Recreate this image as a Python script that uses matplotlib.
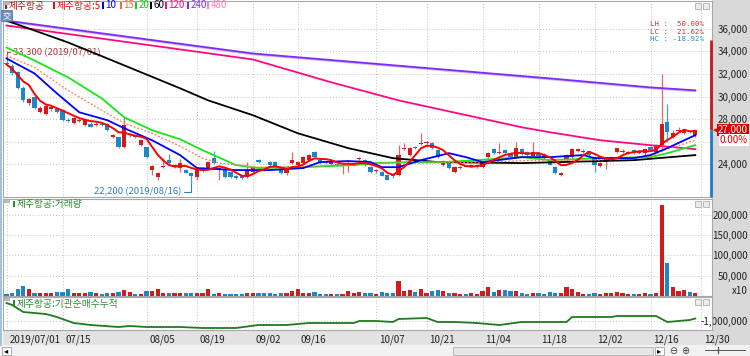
"""Jeju Air daily chart 2019/07 - 2019/12: candles + MAs, volume, institutional net buying."""

import numpy as np
import pandas as pd
import matplotlib
matplotlib.use("Agg")
import matplotlib.pyplot as plt
import matplotlib.transforms as mtransforms
from matplotlib.patches import Rectangle
from matplotlib.ticker import FuncFormatter

plt.rcParams["font.family"] = ["Liberation Sans Narrow", "Noto Sans CJK KR", "DejaVu Sans"]

# ---------------- data ----------------
holidays = ["2019-08-15", "2019-09-12", "2019-09-13", "2019-10-03", "2019-10-09", "2019-12-25"]

open_ = [33000, 32750, 32150, 30800, 29400, 29950, 28600, 28450, 28900, 28900,
         28800, 27950, 27650, 27850, 27450, 27600, 27450, 27600, 27600, 26400,
         26400, 25500, 26600, 26500, 25700, 25500, 23450, 22850, 23750, 24350,
         23750, 23650, 23450, 23200, 22850, 23400, 23650, 24550, 23500, 23450,
         23300, 22950, 22900, 22850, 23300, 24350, 23550, 24150, 24150, 23450,
         23200, 24100, 23900, 24100, 24350, 25050, 24350, 24200, 24050, 24000,
         23850, 24000, 23900, 24450, 24350, 23750, 23350, 23300, 23050, 23150,
         23050, 25350, 24800, 25550, 25800, 25850, 25900, 25250, 23950, 24200,
         23300, 23650, 23850, 23850, 23750, 23750, 24600, 25300, 25000, 25250,
         24950, 24600, 25300, 25100, 24700, 24950, 24900, 24350, 23750, 23050,
         24350, 24600, 25200, 25100, 25150, 24600, 23850, 24200, 24550, 25050,
         25100, 25000, 25250, 25000, 24950, 25500, 25050, 25700, 27700, 26400,
         26950, 26750, 26950, 26550]
high = [33300, 32850, 32250, 30950, 29900, 30100, 29200, 29350, 29150, 29000,
        28850, 28100, 28150, 28100, 28050, 27700, 27700, 27700, 27650, 26650,
        26450, 28150, 26800, 26600, 26250, 25550, 23950, 23300, 24500, 24900,
        24000, 24450, 23550, 23300, 23500, 23750, 24250, 25200, 23750, 23550,
        23400, 23050, 23000, 24200, 23850, 24450, 23650, 24250, 24250, 23550,
        23550, 25100, 24300, 24700, 24900, 25150, 24450, 24300, 24250, 24100,
        24050, 24350, 24100, 24650, 24450, 23800, 23550, 23350, 23100, 23250,
        25700, 25850, 25500, 25650, 26750, 26050, 26000, 25300, 24400, 24250,
        23800, 23850, 23900, 24000, 24000, 24150, 25050, 25400, 25850, 25350,
        25050, 26000, 25400, 25200, 26000, 25050, 25000, 24400, 23800, 23300,
        24900, 25400, 25400, 25300, 25200, 24650, 24150, 24600, 24750, 25450,
        25300, 25200, 25300, 25200, 25400, 25600, 25750, 32000, 29300, 27000,
        27250, 27050, 27050, 27100]
low = [32700, 31950, 30700, 29550, 29250, 28900, 28500, 28350, 28750, 28550,
       27850, 27750, 27550, 27750, 27350, 27250, 27350, 27400, 26950, 26300,
       25450, 25400, 26450, 26300, 25600, 24550, 23000, 22600, 23650, 24000,
       23650, 23300, 23200, 22200, 22550, 23300, 23550, 24000, 22600, 22800,
       22800, 22700, 22700, 22800, 23200, 24100, 23350, 23850, 23700, 23150,
       23000, 24000, 23800, 24000, 24250, 24550, 24050, 24050, 23950, 23800,
       23100, 23300, 23800, 24350, 23850, 23250, 23250, 22900, 22550, 22800,
       22950, 25250, 24700, 25350, 25700, 25750, 25350, 24550, 23850, 23600,
       23200, 23550, 23700, 23750, 23650, 23650, 24500, 24900, 24900, 24900,
       24550, 24500, 24850, 24750, 24600, 24650, 24450, 23900, 23150, 22900,
       24250, 24500, 25100, 25000, 24750, 23300, 23750, 23600, 24450, 24950,
       25000, 24900, 24900, 24900, 24850, 25200, 24950, 25300, 26000, 26300,
       26850, 26650, 26800, 26450]
close = [32850, 32050, 30800, 29650, 29750, 28950, 28950, 29200, 29050, 28650,
         27900, 27850, 28050, 27950, 27950, 27300, 27600, 27500, 27000, 26550,
         25500, 27450, 26700, 26400, 26100, 24600, 23850, 23200, 23850, 24100,
         23900, 24100, 23250, 22950, 23450, 23650, 24150, 24100, 23650, 22850,
         22850, 22750, 22750, 23450, 23750, 24200, 23450, 23900, 23750, 23200,
         23450, 24350, 24200, 24600, 24800, 24600, 24100, 24100, 24150, 23850,
         23950, 24100, 24000, 24550, 23900, 23300, 23450, 22950, 22600, 22900,
         24800, 25450, 25400, 25450, 25900, 25950, 25400, 24600, 24300, 23650,
         23750, 23750, 23750, 23950, 23950, 24100, 24950, 24950, 25100, 24950,
         24600, 25400, 24900, 24800, 25100, 24700, 24500, 23950, 23200, 23200,
         24800, 25350, 25300, 25200, 24800, 23900, 24100, 24550, 24650, 25400,
         25200, 25100, 24950, 25100, 25350, 25250, 25700, 27550, 26850, 26800,
         27050, 27000, 26850, 27000]
# volume, in units of 10 shares (axis is marked x10)
volume_x10 = [5200, 8200, 17200, 25400, 16500, 8200, 6700, 8200, 8200, 9900,
              9900, 16500, 8200, 8200, 8200, 9900, 6700, 5700, 6200, 8200,
              9900, 14700, 9900, 5200, 5700, 11600, 12200, 17200, 8200, 8200,
              6200, 6200, 7200, 6200, 6200, 8200, 17200, 5700, 7200, 5700,
              5700, 4700, 4700, 7200, 6200, 8200, 8200, 8200, 4700, 8200,
              6700, 12200, 16500, 8200, 6700, 9900, 5700, 5700, 4700, 4700,
              4700, 11600, 8200, 9900, 6700, 6700, 5700, 9100, 7400, 6200,
              37700, 12300, 14700, 9100, 17200, 6700, 12300, 14000, 12300, 7400,
              7400, 5700, 4700, 7400, 5200, 12300, 22200, 9100, 14700, 14000,
              11600, 12300, 7400, 5200, 6200, 6200, 5200, 9900, 7400, 6200,
              22200, 16500, 9100, 5200, 4700, 7400, 5200, 6200, 6200, 9100,
              6200, 5200, 4200, 4700, 7400, 5200, 8200, 224000, 80500, 22200,
              12300, 14700, 9900, 7400]

# moving averages (they depend on history before July)
ma10_idx = [0, 5, 9, 13, 18, 21, 26, 31, 34, 41, 47, 53, 56, 61, 65, 67, 70, 74, 79, 82,
            85, 92, 97, 103, 105, 112, 115, 118, 123]
ma10_val = [33380, 32050, 30280, 28600, 27900, 27190, 26120, 24800, 23650, 23470, 23470,
            23650, 24180, 24270, 24180, 23730, 23730, 24350, 24970, 24620, 24180, 24620,
            24620, 24800, 24530, 24530, 24800, 25420, 26570]
ma15_idx = [0, 5, 11, 17, 21, 26, 31, 35, 38, 45, 55, 65, 75, 85, 95, 105, 115, 118, 123]
ma15_val = [33650, 32580, 30550, 28780, 27630, 26740, 25590, 24530, 24090, 23730, 23820,
            24090, 24090, 24180, 24350, 24350, 24710, 25330, 26120]
ma20_idx = [0, 5, 11, 17, 21, 26, 31, 35, 41, 45, 53, 62, 66, 72, 78, 84, 92, 97, 106,
            115, 118, 123]
ma20_val = [34350, 33200, 31700, 29840, 28160, 27010, 26210, 25240, 23910, 23650, 23730,
            23910, 24090, 24180, 24180, 24350, 24620, 24350, 24530, 24620, 24970, 25680]
ma60_idx = [0, 11, 18, 31, 36, 44, 52, 61, 69, 77, 92, 112, 123]
ma60_val = [36740, 34800, 33380, 30730, 29660, 28340, 26740, 25420, 24530, 24180, 24090,
            24350, 24800]
ma120_idx = [0, 22, 44, 58, 70, 92, 97, 106, 115, 123]
ma120_val = [36300, 34800, 33290, 31260, 29660, 27270, 26830, 26120, 25680, 25330]
ma240_idx = [0, 44, 97, 115, 123]
ma240_val = [36740, 33820, 31610, 30810, 30550]
ma480_idx = [0, 44, 97, 115, 123]
ma480_val = [36650, 33730, 31520, 30720, 30460]

# institutional net buying, cumulative
inst_idx = [0, 1, 3, 7, 9, 12, 15, 20, 22, 25, 31, 35, 41, 45, 50, 54, 62, 63, 66, 69,
            70, 75, 77, 80, 84, 88, 92, 100, 101, 108, 109, 116, 118, 122, 123]
inst_val = [-280000, -360000, -640000, -720000, -840000, -1080000, -1160000, -1240000,
            -1200000, -1240000, -1240000, -1280000, -1280000, -1160000, -1160000,
            -1080000, -1080000, -1000000, -1000000, -1040000, -920000, -880000,
            -1040000, -1040000, -1080000, -1160000, -1040000, -1040000, -840000,
            -840000, -800000, -800000, -1040000, -960000, -900000]

range_top = 35000
tick_dates = ["2019-07-01", "2019-07-15", "2019-08-05", "2019-08-19", "2019-09-02",
              "2019-09-16", "2019-10-07", "2019-10-21", "2019-11-04", "2019-11-18",
              "2019-12-02", "2019-12-16", "2019-12-30"]

# ---------------- styling ----------------
W, H = 750, 356
RED, BLUE = "#d01c1c", "#1f86c6"
RED_W, BLUE_W = "#e06a6a", "#4b9fd6"
GRID = "#c4c4c4"
SPINE = "#a8a8a8"
PANEL_BG = "#d9d9d9"
LBL_FS = 7


def fx(x):
    return x / W


def fy(y):
    return 1 - y / H


def px_rect(fig, x0, y0, w, h, **kw):
    fig.add_artist(Rectangle((fx(x0), fy(y0 + h)), w / W, h / H,
                             transform=fig.transFigure, **kw))


def ftext(fig, x, y, s, **kw):
    fig.text(fx(x), fy(y), s, **kw)


def main():
    days = pd.bdate_range("2019-07-01", "2019-12-30")
    days = days[~days.isin(pd.to_datetime(holidays))]
    o, h, l, c = (np.array(a, dtype=float) for a in (open_, high, low, close))
    n = len(c)
    x = np.arange(n)
    up = c >= o

    fig = plt.figure(figsize=(W / 100, H / 100), dpi=100)
    fig.patch.set_facecolor("white")

    # chrome behind the axes
    px_rect(fig, 712, 0, 38, 345, facecolor=PANEL_BG, edgecolor="none", zorder=-5)
    px_rect(fig, 3, 330, 709, 15, facecolor="#e2e2e2", edgecolor="none", zorder=-5)
    px_rect(fig, 0, 345, 750, 11, facecolor="#f2f2f2", edgecolor="none", zorder=-5)
    fig.add_artist(plt.Line2D([fx(1), fx(1)], [fy(345), fy(0)], color="#8fb4e0",
                              lw=1.2, transform=fig.transFigure))

    left, right = fx(3), fx(712)
    ax_p = fig.add_axes([left, fy(197), right - left, 196 / H])
    ax_v = fig.add_axes([left, fy(296), right - left, 97 / H], sharex=ax_p)
    ax_i = fig.add_axes([left, fy(330), right - left, 33 / H], sharex=ax_p)

    xl = (-0.625, 125.98)
    tick_pos = days.get_indexer(pd.to_datetime(tick_dates))
    tick_lbl = [days[p].strftime("%Y/%m/%d") if k == 0 else days[p].strftime("%m/%d")
                for k, p in enumerate(tick_pos)]

    for ax in (ax_p, ax_v, ax_i):
        ax.set_xlim(*xl)
        for s in ax.spines.values():
            s.set_color(SPINE)
            s.set_linewidth(0.8)
        ax.yaxis.tick_right()
        ax.tick_params(axis="both", length=0, labelsize=LBL_FS, colors="#222222")
        ax.tick_params(axis="y", pad=26)
        ax.set_xticks(tick_pos)
        ax.grid(True, which="both", color=GRID, lw=0.7, ls=(0, (1, 2)))
        ax.set_axisbelow(True)
        ax.yaxis.set_major_formatter(FuncFormatter(lambda v, p: f"{v:,.0f}"))

    # ---- price panel ----
    ax_p.set_ylim(21080, 38480)
    ax_p.set_yticks([24000, 28000, 30000, 32000, 34000, 36000])
    ax_p.set_yticks([26000], minor=True)
    ax_p.tick_params(axis="y", which="minor", length=0, labelright=False)
    ax_p.tick_params(axis="x", labelbottom=False)

    ax_p.vlines(x, l, h, colors=np.where(up, RED_W, BLUE_W), lw=0.9, zorder=2)
    body = np.maximum(np.abs(c - o), 70)
    ax_p.bar(x, body, bottom=np.minimum(o, c), width=0.72,
             color=np.where(up, RED, BLUE), lw=0, zorder=3)

    ma5 = pd.Series(c).rolling(5, min_periods=1).mean()
    ax_p.plot(ma480_idx, ma480_val, color="#d9b0f5", lw=1.2, zorder=4)
    ax_p.plot(ma240_idx, ma240_val, color="#7a2ff0", lw=1.3, zorder=4)
    ax_p.plot(ma120_idx, ma120_val, color="#ff0a80", lw=1.3, zorder=4)
    ax_p.plot(ma60_idx, ma60_val, color="#000000", lw=1.3, zorder=4)
    ax_p.plot(ma20_idx, ma20_val, color="#19e619", lw=1.3, zorder=4)
    ax_p.plot(ma15_idx, ma15_val, color="#ff7a55", lw=0.9, ls=(0, (1.5, 1.5)), zorder=4)
    ax_p.plot(ma10_idx, ma10_val, color="#0000ff", lw=1.3, zorder=4)
    ax_p.plot(x, ma5, color="#ff0000", lw=1.4, zorder=5)

    ih, il = int(np.argmax(h)), int(np.argmin(l))
    ax_p.annotate(f"{h[ih]:,.0f} ({days[ih].strftime('%Y/%m/%d')})", xy=(ih, h[ih]),
                  xytext=(4.5, 5), textcoords="offset points", ha="left", va="center",
                  fontsize=6.8, color="#b03a3a",
                  arrowprops=dict(arrowstyle="-", color="#c04040", lw=0.8, shrinkA=0,
                                  shrinkB=0, connectionstyle="angle,angleA=0,angleB=90,rad=0"))
    ax_p.annotate(f"{l[il]:,.0f} ({days[il].strftime('%Y/%m/%d')})", xy=(il, l[il]),
                  xytext=(-7, -5.5), textcoords="offset points", ha="right", va="center",
                  fontsize=6.8, color="#2f7fbf",
                  arrowprops=dict(arrowstyle="-", color="#2f7fbf", lw=0.8, shrinkA=0,
                                  shrinkB=0, connectionstyle="angle,angleA=0,angleB=90,rad=0"))

    # range bar at the right edge of the price panel
    ytr = ax_p.get_yaxis_transform()
    ax_p.plot([0.9985, 0.9985], [range_top, c[-1]], color="#c81818", lw=2,
              transform=ytr, clip_on=False, zorder=6, solid_capstyle="butt")
    ax_p.plot([0.9985, 0.9985], [c[-1], 21080], color="#1f7fc0", lw=2,
              transform=ytr, clip_on=False, zorder=6, solid_capstyle="butt")

    # current price box
    btr = mtransforms.blended_transform_factory(fig.transFigure, ax_p.transData)
    ax_p.text(fx(748), c[-1], f"{c[-1]:,.0f}", transform=btr, ha="right", va="center",
              fontsize=LBL_FS, color="white", zorder=10, clip_on=False,
              bbox=dict(boxstyle="square,pad=0.12", fc="#e00000", ec="none"))
    ax_p.text(fx(713), c[-1], "◀", transform=btr, ha="left", va="center",
              fontsize=5, color="#e00000", family="DejaVu Sans", clip_on=False)
    ax_p.text(fx(748), c[-1] - 850, "0.00%", transform=btr, ha="right", va="center",
              fontsize=LBL_FS, color="#e00000", zorder=10, clip_on=False,
              bbox=dict(boxstyle="square,pad=0.12", fc="white", ec="none"))

    # LH / LC / HC box
    lh = (h.max() / l.min() - 1) * 100
    lc = (c[-1] / l.min() - 1) * 100
    hc = (c[-1] / h.max() - 1) * 100
    for k, (name, v, col) in enumerate([("LH", lh, "#d03030"), ("LC", lc, "#d03030"),
                                        ("HC", hc, "#2f86c6")]):
        ftext(fig, 704, 24 + 7.5 * k, f"{name} : {v:6.2f}%", ha="right", va="center",
              fontsize=5.3, family="DejaVu Sans Mono", color=col)

    # legend row
    legend = [("제주항공", "#b01818", 5), ("제주항공:5", "#e01010", 53), ("10", "#0000ff", 102),
              ("15", "#ff6a30", 120), ("20", "#10d010", 135), ("60", "#000000", 150),
              ("120", "#ff0a80", 165), ("240", "#7a2ff0", 187), ("480", "#ff80c0", 207)]
    for lab, col, xp in legend:
        px_rect(fig, xp, 2.5, 1.8, 6, facecolor=col, edgecolor="none", zorder=20)
        ftext(fig, xp + 3.5, 5.5, lab, ha="left", va="center", fontsize=7, color=col,
              zorder=20)

    px_rect(fig, 1, 10, 11, 11, facecolor="#6f8fb8", edgecolor="#4f6f98", lw=0.5, zorder=20)
    ftext(fig, 6.5, 15.5, "交", ha="center", va="center", fontsize=6, color="white",
          family=["Noto Sans CJK KR", "DejaVu Sans"], zorder=21)

    # ---- volume panel ----
    ax_v.set_ylim(0, 238900)
    ax_v.set_yticks([50000, 100000, 150000, 200000])
    ax_v.tick_params(axis="x", labelbottom=False)
    ax_v.bar(x, volume_x10, width=0.75, color=np.where(up, RED, BLUE), lw=0, zorder=3)
    ftext(fig, 748, 291, "x10", ha="right", va="center", fontsize=LBL_FS, color="#222222")
    px_rect(fig, 13, 201, 1.8, 6, facecolor="#2e8b2e", edgecolor="none", zorder=20)
    ftext(fig, 16.5, 204.5, "제주항공:거래량", ha="left", va="center", fontsize=7,
          color="#2e8b2e", zorder=20)

    # ---- institutional net buying panel ----
    ax_i.set_ylim(-1360000, -40000)
    ax_i.set_yticks([-1000000])
    ax_i.plot(inst_idx, inst_val, color="#1e7b1e", lw=1.3, zorder=4)
    px_rect(fig, 13, 300, 1.8, 6, facecolor="#2e8b2e", edgecolor="none", zorder=20)
    ftext(fig, 16.5, 303.5, "제주항공:기관순매수누적", ha="left", va="center", fontsize=7,
          color="#2e8b2e", zorder=20)

    ax_i.set_xticklabels(tick_lbl)
    ax_i.tick_params(axis="x", pad=3)
    shift = mtransforms.ScaledTranslation(3 / 100, 0, fig.dpi_scale_trans)
    for lab in ax_i.get_xticklabels():
        lab.set_horizontalalignment("left")
        lab.set_transform(lab.get_transform() + shift)

    for ax in (ax_p, ax_v, ax_i):
        plt.setp(ax.get_yticklabels(), ha="right")

    # panel menu icons and buttons
    for y0 in (1, 199, 297):
        px_rect(fig, 4, y0 + 1, 6, 3, facecolor="#b8b8b8", edgecolor="none", zorder=20)
        for bx in (695, 703):
            px_rect(fig, bx, y0 + 2, 6, 6, facecolor="#ececec", edgecolor="#a0a0a0",
                    lw=0.5, zorder=20)

    # scroll bar row
    px_rect(fig, 2, 347, 9, 8, facecolor="white", edgecolor="#a0a0a0", lw=0.6)
    ftext(fig, 6.5, 351, "◂", ha="center", va="center", fontsize=6, family="DejaVu Sans")
    px_rect(fig, 453, 347, 200, 8, facecolor="#e6e6e6", edgecolor="#b0b0b0", lw=0.6)
    px_rect(fig, 655, 347, 9, 8, facecolor="white", edgecolor="#a0a0a0", lw=0.6)
    ftext(fig, 659.5, 351, "▸", ha="center", va="center", fontsize=6, family="DejaVu Sans")
    ftext(fig, 673, 351, "⊖", ha="center", va="center", fontsize=7, family="DejaVu Sans",
          color="#444444")
    ftext(fig, 685, 351, "⊕", ha="center", va="center", fontsize=7, family="DejaVu Sans",
          color="#444444")
    fig.add_artist(plt.Line2D([fx(705), fx(745)], [fy(350), fy(350)], color="#555555",
                              lw=0.7, transform=fig.transFigure))
    fig.add_artist(plt.Line2D([fx(718), fx(718)], [fy(347), fy(353)], color="#555555",
                              lw=0.9, transform=fig.transFigure))

    fig.savefig("out.png", dpi=100)
    plt.close(fig)


if __name__ == "__main__":
    main()
